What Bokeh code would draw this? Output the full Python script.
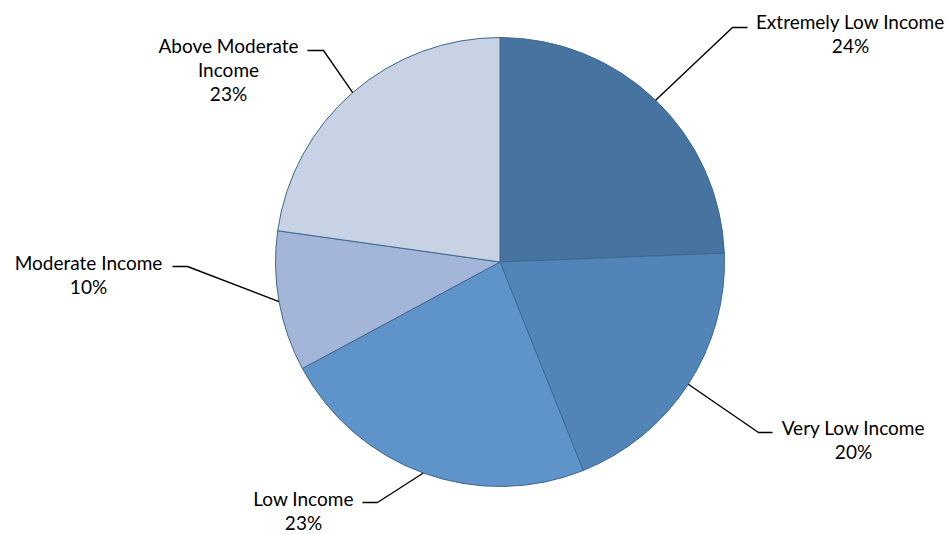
import numpy as np
from bokeh.plotting import figure
from bokeh.models import Range1d, ColumnDataSource
from bokeh.core.properties import value
from bokeh.embed import file_html
from bokeh.resources import INLINE

# ---- data ----
categories = ["Extremely Low Income", "Very Low Income", "Low Income",
              "Moderate Income", "Above Moderate Income"]
name_lines = [["Extremely Low Income"], ["Very Low Income"], ["Low Income"],
              ["Moderate Income"], ["Above Moderate", "Income"]]
shares = [24.4, 19.6, 23.2, 10.1, 22.8]
colors = ["#46739F", "#5284B7", "#5E94CA", "#A3B6D9", "#C7D2E5"]

# ---- layout (screen pixels, y downward) ----
W, H = 952, 534
CX, CY, R = 499.5, 261.5, 224.5
label_pos = [(850, 21), (853, 427), (303, 498), (88, 262), (228, 45)]
elbows = [(732, 27), (758, 432), (377, 502), (187, 266), (323, 50)]
ends = [(747, 27), (772, 432), (362, 502), (172, 266), (307, 50)]
LINE_GAP = 24

vals = np.array(shares, dtype=float)
frac = vals / vals.sum()
cum = np.concatenate([[0], np.cumsum(frac)])
start = np.pi / 2 - 2 * np.pi * cum[:-1]
end = np.pi / 2 - 2 * np.pi * cum[1:]
mid = (start + end) / 2

p = figure(width=W, height=H, output_backend="svg", toolbar_location=None,
           x_range=Range1d(0, W), y_range=Range1d(0, H), min_border=0,
           outline_line_color=None)
p.axis.visible = False
p.grid.visible = False
p.background_fill_color = "white"
p.border_fill_color = "white"

src = ColumnDataSource(dict(start=start, end=end, color=colors, cat=categories))
p.wedge(x=CX, y=H - CY, radius=R, start_angle="start", end_angle="end",
        direction="clock", fill_color="color", line_color="#3E6892",
        line_width=1, source=src)

# leader lines
for i in range(len(categories)):
    sx = CX + R * np.cos(mid[i])
    sy = (H - CY) + R * np.sin(mid[i])
    ex, ey = elbows[i]
    tx, ty = ends[i]
    p.line([sx, ex, tx], [sy, H - ey, H - ty], line_color="black", line_width=1.4)

# labels
xs, ys, texts = [], [], []
for i in range(len(categories)):
    lx, ly = label_pos[i]
    lines = name_lines[i] + [f"{round(frac[i] * 100):.0f}%"]
    for k, t in enumerate(lines):
        xs.append(lx)
        ys.append(H - (ly + k * LINE_GAP))
        texts.append(t)
p.text(x=xs, y=ys, text=texts, text_align="center", text_baseline="middle",
       text_font=value("Lato"), text_font_size="19px", text_color="black")

open("out.html", "w").write(file_html(p, INLINE))
